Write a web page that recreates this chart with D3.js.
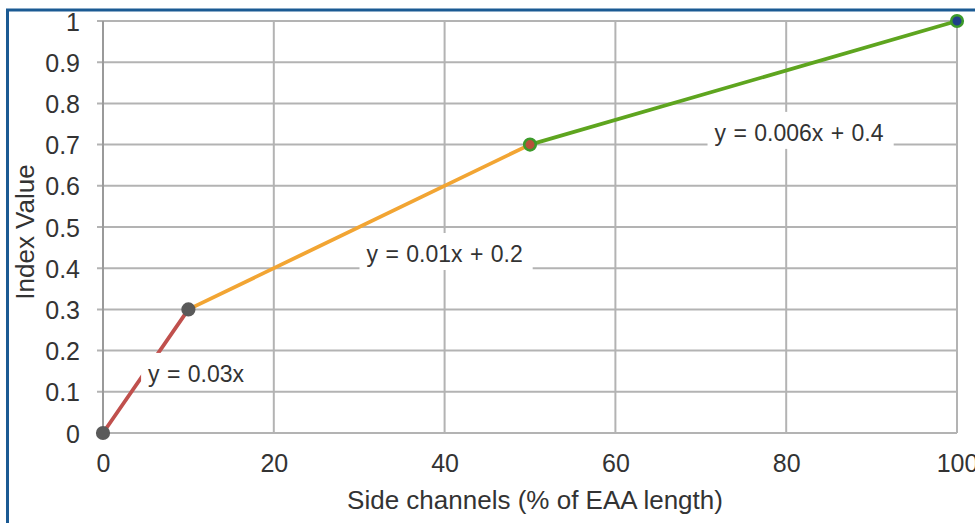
<!DOCTYPE html>
<html><head><meta charset="utf-8">
<script src="https://cdn.jsdelivr.net/npm/d3@7"></script>
<style>body{margin:0;background:#fff}svg{display:block}text{font-family:"Liberation Sans",Arial,Helvetica,sans-serif;fill:#333}</style>
</head><body>
<script>
const xTicks = [0,20,40,60,80,100];
const yTicks = [0,0.1,0.2,0.3,0.4,0.5,0.6,0.7,0.8,0.9,1];
const segX0 = [0,10,50];
const segY0 = [0,0.3,0.7];
const segX1 = [10,50,100];
const segY1 = [0.3,0.7,1];
const segColors = ["#c0504d","#f2a533","#5ea51f"];
const pointX = [0,10,50,100];
const pointY = [0,0.3,0.7,1];
const labelText = ["y = 0.03x","y = 0.01x + 0.2","y = 0.006x + 0.4"];
const labelX = [10.9,40.0,81.5];
const labelY = [0.124,0.415,0.709];

const segments = segX0.map((d,i)=>({x0:d,y0:segY0[i],x1:segX1[i],y1:segY1[i],color:segColors[i]}));
const pointStyle = [
  {fill:"#5a5a5a", stroke:"#5a5a5a"},
  {fill:"#5a5a5a", stroke:"#5a5a5a"},
  {fill:"#b8503a", stroke:"#3c9a2a"},
  {fill:"#1f3f8a", stroke:"#3c9a2a"}
];
const points = pointX.map((d,i)=>({x:d,y:pointY[i],...pointStyle[i]}));
const labels = labelText.map((t,i)=>({text:t,x:labelX[i],y:labelY[i]}));

const W=975,H=523;
const svg=d3.select("body").append("svg").attr("width",W).attr("height",H);
const x=d3.scaleLinear().domain([0,100]).range([103,957]);
const y=d3.scaleLinear().domain([0,1]).range([433,21]);

// frame
svg.append("rect").attr("x",7.5).attr("y",10).attr("width",1100).attr("height",700)
  .attr("fill","none").attr("stroke","#1b5a93").attr("stroke-width",3);

const grid=svg.append("g");
grid.selectAll("line.h").data(yTicks).join("line")
  .attr("x1",97).attr("x2",x(100)).attr("y1",d=>y(d)).attr("y2",d=>y(d))
  .attr("stroke","#b3b3b3").attr("stroke-width",2);
grid.selectAll("line.v").data(xTicks.filter(d=>d>0)).join("line")
  .attr("x1",d=>x(d)).attr("x2",d=>x(d)).attr("y1",y(1)).attr("y2",y(0))
  .attr("stroke","#b3b3b3").attr("stroke-width",2);
grid.append("line").attr("x1",x(0)).attr("x2",x(0)).attr("y1",y(1)).attr("y2",y(0)+1)
  .attr("stroke","#9a9a9a").attr("stroke-width",2);

// axes labels via d3 axis
const yAxis=svg.append("g").attr("transform",`translate(80,0)`)
  .call(d3.axisLeft(y).tickValues(yTicks).tickFormat(d3.format("~g")).tickSize(0).tickPadding(0));
yAxis.select(".domain").remove();
yAxis.selectAll("text").attr("font-size",25).style("fill","#333").attr("x",0).attr("dy","0.36em");
const xAxis=svg.append("g").attr("transform",`translate(0,472)`)
  .call(d3.axisBottom(x).tickValues(xTicks).tickSize(0).tickPadding(0));
xAxis.select(".domain").remove();
xAxis.selectAll("text").attr("font-size",25).style("fill","#333").attr("y",0).attr("dy",0);

// lines
svg.selectAll("line.seg").data(segments).join("line")
  .attr("x1",d=>x(d.x0)).attr("y1",d=>y(d.y0)).attr("x2",d=>x(d.x1)).attr("y2",d=>y(d.y1))
  .attr("stroke",d=>d.color).attr("stroke-width",3.8).attr("stroke-linecap","round");

// labels with white boxes
const lg=svg.selectAll("g.lab").data(labels).join("g")
  .attr("transform",d=>`translate(${x(d.x)},${y(d.y)})`);
const rects=lg.append("rect").attr("fill","#fff");
const texts=lg.append("text").attr("text-anchor","middle").attr("font-size",23)
  .attr("word-spacing","1px").text(d=>d.text);
texts.each(function(){
  const b=this.getBBox();
  d3.select(this.previousSibling).attr("x",b.x-7).attr("width",b.width+17).attr("y",-29).attr("height",37);
});

// points
svg.selectAll("circle").data(points).join("circle")
  .attr("cx",d=>x(d.x)).attr("cy",d=>y(d.y)).attr("r",5.8)
  .attr("fill",d=>d.fill).attr("stroke",d=>d.stroke).attr("stroke-width",2.6);

// titles
svg.append("text").attr("x",535).attr("y",509).attr("text-anchor","middle").attr("font-size",26)
  .text("Side channels (% of EAA length)");
svg.append("text").attr("transform",`translate(34,232) rotate(-90)`).attr("text-anchor","middle").attr("font-size",26)
  .text("Index Value");
</script>
</body></html>
